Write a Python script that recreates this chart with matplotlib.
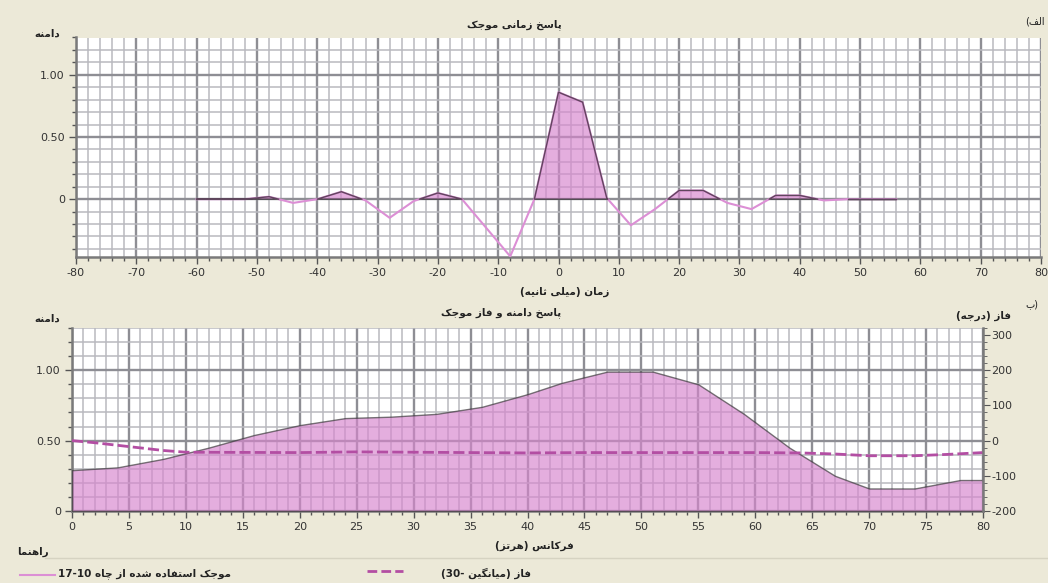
import re
import numpy as np
import matplotlib
matplotlib.use('Agg')
import matplotlib.pyplot as plt
from matplotlib.ticker import MultipleLocator, FixedLocator, FuncFormatter
from matplotlib.lines import Line2D

plt.rcParams['axes.unicode_minus'] = False

# wavelet time response (ms, amplitude)
time_ms = [-60, -56, -52, -48, -44, -40, -36, -32, -28, -24, -20, -16, -12, -8, -4,
           0, 4, 8, 12, 16, 20, 24, 28, 32, 36, 40, 44, 48, 52, 56]
wavelet = [0, 0, 0, 0.02, -0.03, 0, 0.06, -0.01, -0.15, -0.015, 0.05, 0, -0.23, -0.46, 0,
           0.86, 0.78, 0.01, -0.21, -0.08, 0.07, 0.07, -0.03, -0.08, 0.03, 0.03, -0.01, 0, 0, 0]

# amplitude spectrum (Hz)
freq = [0, 4, 8, 12, 16, 20, 24, 28, 32, 36, 40, 43, 47, 51, 55, 59, 63, 67, 70, 74, 78, 80]
amp = [0.29, 0.31, 0.37, 0.45, 0.54, 0.61, 0.66, 0.67, 0.69, 0.74, 0.83, 0.91, 0.99, 0.99,
       0.90, 0.69, 0.45, 0.25, 0.16, 0.16, 0.22, 0.22]

# phase spectrum (degrees)
phase_f = [0, 2, 5, 8, 10, 20, 25, 30, 35, 40, 45, 50, 55, 60, 64, 67, 70, 74, 77, 80]
phase_deg = [0, -6, -17, -28, -33, -34, -32, -33, -34, -35, -34, -34, -34, -34, -35, -38,
             -43, -43, -39, -34]

time_ticks = [-80, -70, -60, -50, -40, -30, -20, -10, 0, 10, 20, 30, 40, 50, 60, 70, 80]
freq_ticks = [0, 5, 10, 15, 20, 25, 30, 35, 40, 45, 50, 55, 60, 65, 70, 75, 80]
amp_ticks = [0, 0.5, 1.0]
phase_ticks = [-200, -100, 0, 100, 200, 300]

# --- simple persian shaping (matplotlib has no RTL / joining support) ---
FORMS = {
    'ا': (0xFE8D, 0xFE8E, None, None), 'ب': (0xFE8F, 0xFE90, 0xFE91, 0xFE92),
    'پ': (0xFB56, 0xFB57, 0xFB58, 0xFB59), 'ت': (0xFE95, 0xFE96, 0xFE97, 0xFE98),
    'ث': (0xFE99, 0xFE9A, 0xFE9B, 0xFE9C), 'ج': (0xFE9D, 0xFE9E, 0xFE9F, 0xFEA0),
    'چ': (0xFB7A, 0xFB7B, 0xFB7C, 0xFB7D), 'خ': (0xFEA5, 0xFEA6, 0xFEA7, 0xFEA8),
    'د': (0xFEA9, 0xFEAA, None, None), 'ر': (0xFEAD, 0xFEAE, None, None),
    'ز': (0xFEAF, 0xFEB0, None, None), 'س': (0xFEB1, 0xFEB2, 0xFEB3, 0xFEB4),
    'ش': (0xFEB5, 0xFEB6, 0xFEB7, 0xFEB8), 'ف': (0xFED1, 0xFED2, 0xFED3, 0xFED4),
    'ک': (0xFB8E, 0xFB8F, 0xFB90, 0xFB91), 'گ': (0xFB92, 0xFB93, 0xFB94, 0xFB95),
    'ل': (0xFEDD, 0xFEDE, 0xFEDF, 0xFEE0), 'م': (0xFEE1, 0xFEE2, 0xFEE3, 0xFEE4),
    'ن': (0xFEE5, 0xFEE6, 0xFEE7, 0xFEE8), 'و': (0xFEED, 0xFEEE, None, None),
    'ه': (0xFEE9, 0xFEEA, 0xFEEB, 0xFEEC), 'ی': (0xFBFC, 0xFBFD, 0xFBFE, 0xFBFF),
}


def fa(s):
    out = []
    for i, ch in enumerate(s):
        if ch not in FORMS:
            out.append(ch)
            continue
        prev = s[i - 1] if i > 0 else ''
        nxt = s[i + 1] if i + 1 < len(s) else ''
        jp = prev in FORMS and FORMS[prev][2] is not None
        jn = nxt in FORMS and FORMS[ch][2] is not None
        iso, fin, ini, med = FORMS[ch]
        code = med if (jp and jn) else fin if jp else ini if jn else iso
        out.append(chr(code))
    vis = ''.join(out)[::-1].translate(str.maketrans('()', ')('))
    return re.sub(r'[0-9]+', lambda m: m.group(0)[::-1], vis)


W, H = 1048, 583
BG = '#ece9d8'
PINK_LINE = '#dc8fd5'
PINK_FILL = '#d685cd'
DASH = '#b34ea3'
MAJ = '#8e8e94'
MIN = '#b9b9bf'

fig = plt.figure(figsize=(W / 100, H / 100), dpi=100, facecolor=BG)


def ftext(x, y, s, **kw):
    kw.setdefault('fontsize', 7.5)
    kw.setdefault('fontweight', 'bold')
    kw.setdefault('color', '#222222')
    kw.setdefault('ha', 'center')
    kw.setdefault('va', 'center')
    fig.text(x / W, 1 - y / H, s, **kw)


def style_axes(ax):
    ax.set_facecolor('white')
    ax.set_axisbelow(True)
    ax.grid(which='major', color=MAJ, lw=1.7)
    ax.grid(which='minor', color=MIN, lw=1.1)
    for side in ['top', 'right']:
        ax.spines[side].set_visible(False)
    for side in ['left', 'bottom']:
        ax.spines[side].set_color('#7a7a7a')
        ax.spines[side].set_linewidth(1.8)
    ax.tick_params(which='major', direction='out', length=5, width=1, color='#555555',
                   labelsize=8, labelcolor='#333333', pad=3)
    ax.tick_params(which='minor', direction='out', length=3, width=1, color='#555555')
    ax.yaxis.set_major_formatter(FuncFormatter(lambda v, p: '0' if v == 0 else '%.2f' % v))


# ---------- top: time response ----------
ax1 = fig.add_axes([76 / W, 1 - 257 / H, 965 / W, 219.5 / H])
style_axes(ax1)
t = np.array(time_ms)
w = np.array(wavelet)
ax1.plot(t, w, color=PINK_LINE, lw=1.5, zorder=3)
ax1.fill_between(t, w, 0, where=w >= 0, interpolate=True, facecolor=PINK_FILL, alpha=0.66,
                 edgecolor='#222222', lw=1.0, zorder=4)
ax1.set_xlim(-80, 80)
ax1.set_ylim(-0.465, 1.3)
ax1.xaxis.set_major_locator(FixedLocator(time_ticks))
ax1.xaxis.set_minor_locator(MultipleLocator(2))
ax1.yaxis.set_major_locator(FixedLocator(amp_ticks))
ax1.yaxis.set_minor_locator(MultipleLocator(0.1))

# ---------- bottom: amplitude and phase ----------
ax2 = fig.add_axes([72 / W, 1 - 511 / H, 911 / W, 183 / H])
style_axes(ax2)
ax2.fill_between(freq, amp, 0, facecolor=PINK_FILL, alpha=0.66, edgecolor='#333333', lw=1.0,
                 zorder=3)
ax2.set_xlim(0, 80)
ax2.set_ylim(0, 1.3)
ax2.xaxis.set_major_locator(FixedLocator(freq_ticks))
ax2.xaxis.set_minor_locator(MultipleLocator(1))
ax2.yaxis.set_major_locator(FixedLocator(amp_ticks))
ax2.yaxis.set_minor_locator(MultipleLocator(0.1))

ax3 = ax2.twinx()
ax3.plot(phase_f, phase_deg, color=DASH, lw=2.0, ls=(0, (4, 1.5)))
ax3.set_ylim(-200, 320)
ax3.yaxis.set_major_locator(FixedLocator(phase_ticks))
ax3.yaxis.set_minor_locator(MultipleLocator(20))
for side in ['top', 'left', 'bottom']:
    ax3.spines[side].set_visible(False)
ax3.spines['right'].set_color('#7a7a7a')
ax3.spines['right'].set_linewidth(1.8)
ax3.tick_params(which='major', direction='out', length=5, color='#555555', labelsize=8,
                labelcolor='#333333', pad=1)
ax3.tick_params(which='minor', direction='out', length=3, color='#555555')

# ---------- texts ----------
ftext(47, 34, fa('دامنه'))
ftext(514, 25, fa('پاسخ زمانی موجک'))
ftext(1035, 21, fa('الف)'), fontweight='normal', fontsize=7)
ftext(565, 292, fa('زمان (میلی ثانیه)'))

ftext(47, 319, fa('دامنه'))
ftext(501, 313, fa('پاسخ دامنه و فاز موجک'))
ftext(1032, 304, fa('(ب'), fontweight='normal', fontsize=7)
ftext(984, 316, fa('فاز (درجه)'))
ftext(534, 546, fa('فرکانس (هرتز)'))

# legend area
fig.add_artist(Line2D([45 / W, 1.0], [1 - 558 / H] * 2, color='#d6d3c2', lw=1))
ftext(33, 552, fa('راهنما'))
fig.add_artist(Line2D([20 / W, 55 / W], [1 - 575 / H] * 2, color=PINK_LINE, lw=1.5))
ftext(58, 574, fa('موجک استفاده شده از چاه 10-17'), ha='left')
fig.add_artist(Line2D([367 / W, 403 / W], [1 - 571 / H] * 2, color=DASH, lw=2,
                      ls=(0, (3.5, 1.5))))
ftext(441, 573, fa('فاز (میانگین -30)'), ha='left')

fig.savefig('out.png', dpi=100, facecolor=BG)
